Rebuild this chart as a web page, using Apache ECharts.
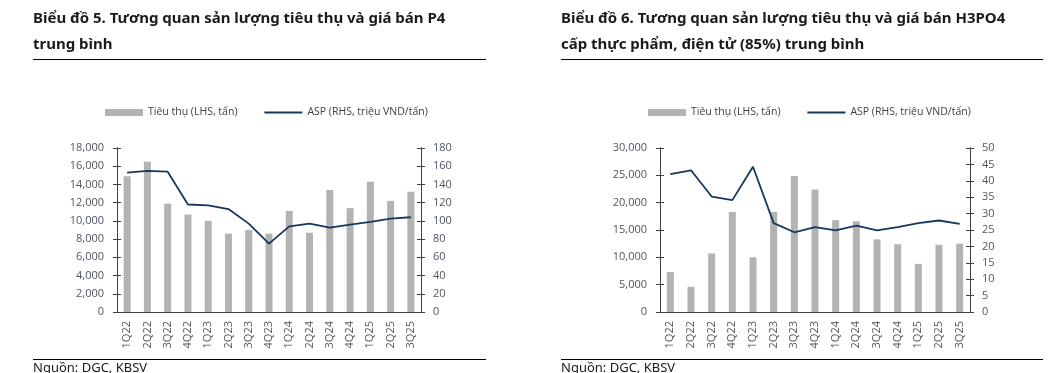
<!DOCTYPE html>
<html><head><meta charset="utf-8">
<script src="https://cdn.jsdelivr.net/npm/echarts@6/dist/echarts.min.js"></script>
<style>html,body{margin:0;padding:0;background:#fff}#c{width:1056px;height:373px}</style>
</head><body><div id="c"></div>
<script>
const categories = ['1Q22','2Q22','3Q22','4Q22','1Q23','2Q23','3Q23','4Q23','1Q24','2Q24','3Q24','4Q24','1Q25','2Q25','3Q25'];
const p4Volume = [14900,16500,11900,10700,10000,8600,9000,8600,11100,8700,13400,11400,14300,12200,13200];
const p4Asp = [153,155,154,118,117,113,97,75,94,97,92.5,96,99,102.5,104];
const h3Volume = [7300,4600,10700,18300,10000,18300,24900,22400,16800,16600,13300,12400,8800,12300,12500];
const h3Asp = [42,43.2,35.2,34.1,44.3,27.1,24.3,25.9,24.9,26.3,24.9,25.9,27.1,27.9,26.9];
const title1 = ['Biểu đồ 5. Tương quan sản lượng tiêu thụ và giá bán P4','trung bình'];
const title2 = ['Biểu đồ 6. Tương quan sản lượng tiêu thụ và giá bán H3PO4','cấp thực phẩm, điện tử (85%) trung bình'];
const source = 'Nguồn: DGC, KBSV';
const barName = 'Tiêu thụ (LHS, tấn)';
const lineName = 'ASP (RHS, triệu VND/tấn)';

const chart = echarts.init(document.getElementById('c'), null, {renderer:'canvas'});
const AX = '#404040', LBL = '#505560', FONT = '"Open Sans", sans-serif';
const BAR = '#b3b3b3', LINE = '#17375e';

function yAx(gi, pos, max, interval, fmt, inside, showLabel, margin){
  return {type:'value', gridIndex:gi, position:pos, min:0, max:max, interval:interval,
    axisLine:{show:true, lineStyle:{color:AX, width:1}},
    axisTick:{show:true, inside:inside, length:4, lineStyle:{color:AX}},
    splitLine:{show:false},
    axisLabel:{show:showLabel, color:LBL, fontFamily:FONT, fontSize:11, margin:margin, formatter:fmt}};
}
const thousands = v => v.toLocaleString('en-US');
function xAx(gi){
  return {type:'category', gridIndex:gi, data:categories,
    axisLine:{lineStyle:{color:AX}},
    axisTick:{inside:true, length:4, lineStyle:{color:AX}},
    axisLabel:{rotate:90, color:LBL, fontFamily:FONT, fontSize:11, margin:9}};
}
function titleGraphics(lines, x, x2){
  const g = lines.map((t,i)=>({type:'text', left:x, top:11+i*26,
    style:{text:t, font:'bold 15px "Noto Sans", sans-serif', fill:'#1a1a1a'}}));
  g.push({type:'line', shape:{x1:x, y1:59.5, x2:x2, y2:59.5}, style:{stroke:'#000', lineWidth:1}});
  g.push({type:'line', shape:{x1:x, y1:359.5, x2:x2, y2:359.5}, style:{stroke:'#000', lineWidth:1}});
  g.push({type:'text', left:x, top:362, style:{text:source, font:'13px "Noto Sans", sans-serif', fill:'#1a1a1a'}});
  return g;
}
function legend(left){
  return {left:left, top:107, padding:0, itemGap:26, itemWidth:38, itemHeight:7,
    textStyle:{color:'#404040', fontFamily:FONT, fontSize:10.5},
    data:[{name:barName, icon:'rect'},
          {name:lineName, itemStyle:{opacity:0}, lineStyle:{color:LINE, width:1.8}}]};
}

chart.setOption({
  animation:false,
  grid:[{left:117, top:148, width:304, height:164},{left:660, top:148, width:310, height:164}],
  legend:[legend(105), legend(648)],
  xAxis:[xAx(0), xAx(1)],
  yAxis:[
    yAx(0,'left',18000,2000,thousands,false,true,13),
    yAx(0,'right',180,20,null,false,true,12),
    yAx(1,'left',30000,5000,thousands,false,true,13),
    yAx(1,'right',50,5,null,false,true,12),
    yAx(0,'left',18000,2000,thousands,true,false,13),
    yAx(0,'right',180,20,null,true,false,12),
    yAx(1,'left',30000,5000,thousands,true,false,13),
    yAx(1,'right',50,5,null,true,false,12)
  ],
  series:[
    {name:barName, type:'bar', xAxisIndex:0, yAxisIndex:0, data:p4Volume, barWidth:7, itemStyle:{color:BAR}},
    {name:lineName, type:'line', xAxisIndex:0, yAxisIndex:1, data:p4Asp, symbol:'none', lineStyle:{color:LINE, width:1.8}, itemStyle:{color:LINE}},
    {name:barName, type:'bar', xAxisIndex:1, yAxisIndex:2, data:h3Volume, barWidth:7, itemStyle:{color:BAR}},
    {name:lineName, type:'line', xAxisIndex:1, yAxisIndex:3, data:h3Asp, symbol:'none', lineStyle:{color:LINE, width:1.8}, itemStyle:{color:LINE}}
  ],
  graphic: titleGraphics(title1, 33, 486).concat(titleGraphics(title2, 561, 1043))
});
</script></body></html>
